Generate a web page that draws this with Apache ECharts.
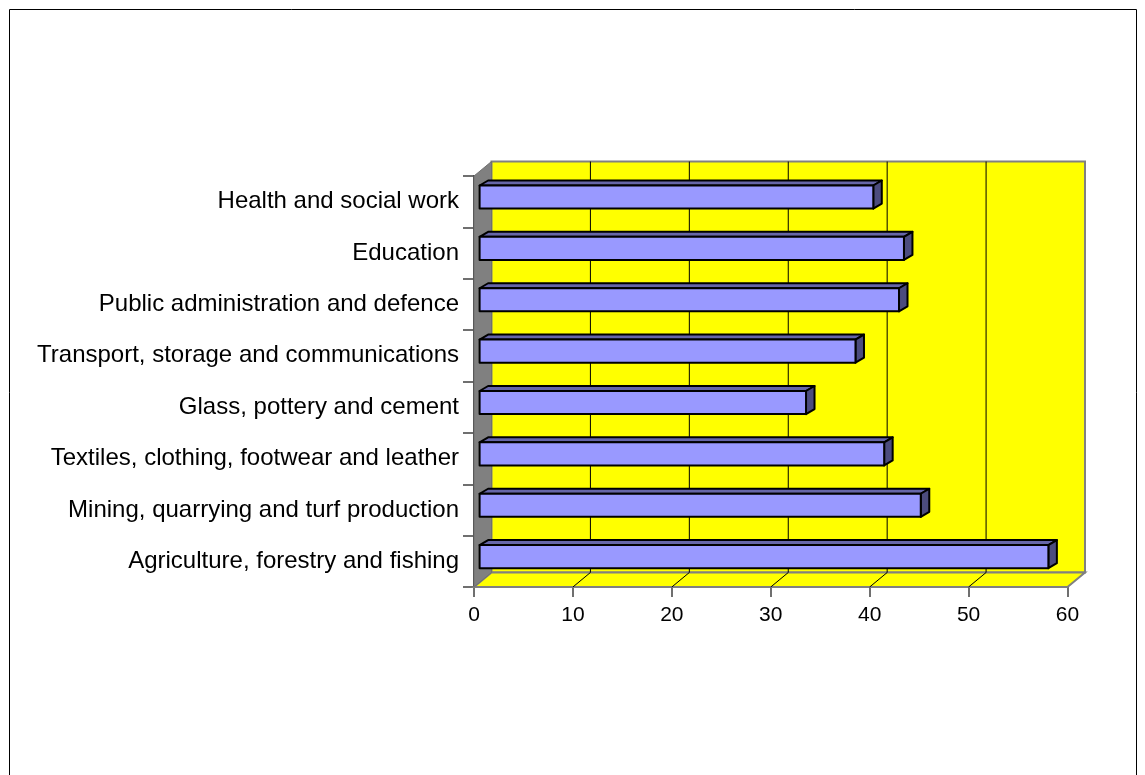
<!DOCTYPE html>
<html>
<head>
<meta charset="utf-8">
<script src="https://cdn.jsdelivr.net/npm/echarts@6/dist/echarts.min.js"></script>
<style>
  html, body { margin: 0; padding: 0; background: #ffffff; }
  #chart { width: 1145px; height: 775px; }
</style>
</head>
<body>
<div id="chart"></div>
<script>
// Sectors, listed bottom to top as drawn on the category axis
const categories = [
  'Agriculture, forestry and fishing',
  'Mining, quarrying and turf production',
  'Textiles, clothing, footwear and leather',
  'Glass, pottery and cement',
  'Transport, storage and communications',
  'Public administration and defence',
  'Education',
  'Health and social work'
];
const values = [57.5, 44.6, 40.9, 33.0, 38.0, 42.4, 42.9, 39.8];
const xTicks = [0, 10, 20, 30, 40, 50, 60];

// Pseudo-3D depth of the plot box (pixels) and bar placement inside it
const DEPTH = [17.5, -14.5];
const F_FRONT = 0.32;
const BAR_DEPTH = [8.5, -5];
const BAR_HALF = 0.225;

function shift(p, f) {
  return [p[0] + DEPTH[0] * f, p[1] + DEPTH[1] * f];
}
function back(p) {
  return [p[0] + BAR_DEPTH[0], p[1] + BAR_DEPTH[1]];
}

// Back wall, floor, gridlines and side wall
function renderWalls(params, api) {
  const n = categories.length;
  const band = api.size([0, 1])[1];
  const x0 = api.coord([xTicks[0], 0])[0];
  const x1 = api.coord([xTicks[xTicks.length - 1], 0])[0];
  const yb = api.coord([0, 0])[1] + band / 2;
  const yt = api.coord([0, n - 1])[1] - band / 2;
  const bl = [x0, yb], br = [x1, yb], tl = [x0, yt], tr = [x1, yt];
  const BL = shift(bl, 1), BR = shift(br, 1), TL = shift(tl, 1), TR = shift(tr, 1);
  const children = [];
  children.push({ type: 'polygon', shape: { points: [TL, TR, BR, BL] },
    style: { fill: '#ffff00', stroke: '#808080', lineWidth: 2 } });
  children.push({ type: 'polygon', shape: { points: [bl, br, BR, BL] },
    style: { fill: '#ffff00', stroke: '#808080', lineWidth: 2 } });
  xTicks.slice(1, -1).forEach(function (t) {
    const fx = api.coord([t, 0])[0];
    const f = [fx, yb];
    const b = shift(f, 1);
    children.push({ type: 'line', shape: { x1: f[0], y1: f[1], x2: b[0], y2: b[1] },
      style: { stroke: '#000000', lineWidth: 1 } });
    children.push({ type: 'line', shape: { x1: b[0], y1: b[1], x2: b[0], y2: TL[1] },
      style: { stroke: '#000000', lineWidth: 1 } });
  });
  children.push({ type: 'polygon', shape: { points: [tl, TL, BL, bl] },
    style: { fill: '#808080', stroke: '#707070', lineWidth: 1 } });
  return { type: 'group', children: children };
}

// One prism per bar: front face, top face and end face
function renderBar(params, api) {
  const v = api.value(0);
  const i = api.value(1);
  const band = api.size([0, 1])[1];
  const c0 = api.coord([0, i]);
  const c1 = api.coord([v, i]);
  const h = band * BAR_HALF;
  const fTL = shift([c0[0], c0[1] - h], F_FRONT);
  const fTR = shift([c1[0], c1[1] - h], F_FRONT);
  const fBR = shift([c1[0], c1[1] + h], F_FRONT);
  const fBL = shift([c0[0], c0[1] + h], F_FRONT);
  const bTL = back(fTL), bTR = back(fTR), bBR = back(fBR);
  const stroke = { stroke: '#000000', lineWidth: 2, lineJoin: 'round' };
  return {
    type: 'group',
    children: [
      { type: 'polygon', shape: { points: [fTL, bTL, bTR, fTR] }, style: Object.assign({ fill: '#6666a8' }, stroke) },
      { type: 'polygon', shape: { points: [fTR, bTR, bBR, fBR] }, style: Object.assign({ fill: '#4c4c7e' }, stroke) },
      { type: 'polygon', shape: { points: [fTL, fTR, fBR, fBL] }, style: Object.assign({ fill: '#9999ff' }, stroke) }
    ]
  };
}

const chart = echarts.init(document.getElementById('chart'), null, { renderer: 'canvas' });
chart.setOption({
  backgroundColor: '#ffffff',
  animation: false,
  graphic: [{
    type: 'rect', shape: { x: 9.5, y: 9.5, width: 1127, height: 800 },
    style: { fill: 'none', stroke: '#000000', lineWidth: 1 }, z: 100, silent: true
  }],
  grid: { left: 474, right: 77.5, top: 176, bottom: 188, containLabel: false },
  xAxis: {
    type: 'value', min: 0, max: 60, interval: 10,
    axisLine: { show: true, lineStyle: { color: '#404040', width: 1.5 } },
    axisTick: { show: true, length: 10, lineStyle: { color: '#404040', width: 1.5 } },
    axisLabel: { color: '#000000', fontSize: 21, fontFamily: 'Liberation Sans, Arial, sans-serif', margin: 18,
      formatter: function (v) { return xTicks.indexOf(v) >= 0 ? String(v) : ''; } },
    splitLine: { show: false }
  },
  yAxis: {
    type: 'category', data: categories,
    axisLine: { show: true, lineStyle: { color: '#404040', width: 2 } },
    axisTick: { show: true, length: 11, lineStyle: { color: '#404040', width: 1.5 } },
    axisLabel: { color: '#000000', fontSize: 24, fontFamily: 'Liberation Sans, Arial, sans-serif', margin: 15,
      padding: [0, 0, 4, 0] },
    splitLine: { show: false }
  },
  series: [
    { type: 'custom', name: 'walls', renderItem: renderWalls, data: [[0, 0]], encode: { x: 0, y: 1 }, z: 1, silent: true },
    { type: 'custom', name: 'bars', renderItem: renderBar, data: values.map(function (v, i) { return [v, i]; }),
      encode: { x: 0, y: 1 }, z: 3 }
  ]
});
</script>
</body>
</html>
